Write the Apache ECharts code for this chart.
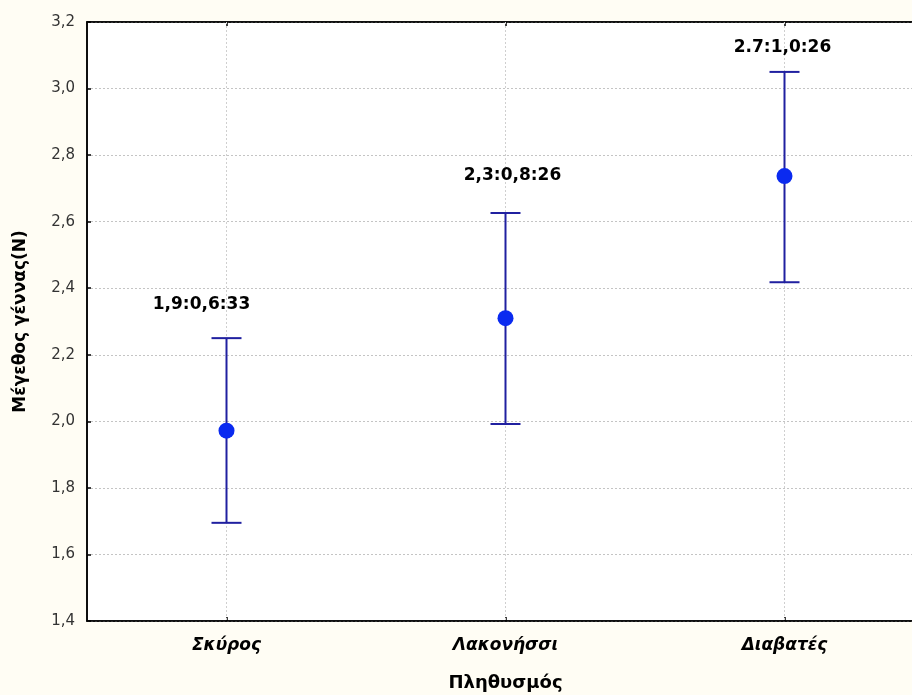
<!DOCTYPE html>
<html>
<head>
<meta charset="utf-8">
<script src="https://cdn.jsdelivr.net/npm/echarts@6/dist/echarts.min.js"></script>
<style>
html,body{margin:0;padding:0;background:#fffdf4;}
#chart{width:912px;height:695px;}
</style>
</head>
<body>
<div id="chart"></div>
<script>
const categories = ['Σκύρος', 'Λακονήσσι', 'Διαβατές'];
const means = [1.972, 2.310, 2.737];
const lower = [1.695, 1.992, 2.418];
const upper = [2.250, 2.626, 3.050];
const pointLabels = ['1,9:0,6:33', '2,3:0,8:26', '2.7:1,0:26'];
const yTicks = { min: 1.4, max: 3.2, interval: 0.2 };

// label placement styling (pixels), not data
const labelDx = [-25, 7, -2];
const labelDy = [-34, -37, -24];

const chart = echarts.init(document.getElementById('chart'));

const fmt = v => v.toFixed(1).replace('.', ',');

chart.setOption({
  backgroundColor: '#fffdf4',
  animation: false,
  grid: {
    left: 87, right: -12, top: 22, bottom: 74,
    outerBoundsMode: 'none',
    containLabel: false,
    show: true, backgroundColor: '#ffffff', borderColor: '#000', borderWidth: 1.5
  },
  xAxis: [{
    type: 'category',
    data: categories,
    boundaryGap: true,
    name: 'Πληθυσμός',
    nameLocation: 'middle',
    nameGap: 53,
    nameTextStyle: { fontFamily: 'DejaVu Sans', fontWeight: 'bold', fontSize: 18, color: '#000' },
    axisLine: { lineStyle: { color: '#000', width: 1.5 } },
    axisTick: { show: true, inside: true, alignWithLabel: true, length: 4, lineStyle: { color: '#000', width: 1.5 } },
    axisLabel: { margin: 16, fontFamily: 'DejaVu Sans', fontWeight: 'bold', fontStyle: 'italic', fontSize: 17, color: '#000' },
    splitLine: { show: false }
  }, {
    type: 'category',
    data: categories,
    position: 'top',
    boundaryGap: true,
    axisLine: { lineStyle: { color: '#000', width: 1.5 } },
    axisTick: { show: true, inside: true, alignWithLabel: true, length: 4, lineStyle: { color: '#000', width: 1.5 } },
    axisLabel: { show: false },
    splitLine: { show: false }
  }],
  yAxis: {
    type: 'value',
    min: yTicks.min, max: yTicks.max, interval: yTicks.interval,
    name: 'Μέγεθος γέννας(N)',
    nameLocation: 'middle',
    nameGap: 58,
    nameTextStyle: { fontFamily: 'DejaVu Sans', fontWeight: 'bold', fontSize: 17, color: '#000' },
    axisLine: { show: true, lineStyle: { color: '#000', width: 1.5 } },
    axisTick: { show: true, inside: true, length: 4, lineStyle: { color: '#000', width: 1.5 } },
    axisLabel: { margin: 12, fontFamily: 'DejaVu Sans', fontSize: 15, color: '#333', formatter: fmt },
    splitLine: { show: true, lineStyle: { color: '#c4c4c4', type: [2, 2], width: 1 } }
  },
  series: [{
    type: 'custom',
    xAxisIndex: 0,
    data: categories.map((c, i) => [i, means[i], lower[i], upper[i]]),
    renderItem: function (params, api) {
      const i = api.value(0);
      const pm = api.coord([i, api.value(1)]);
      const pl = api.coord([i, api.value(2)]);
      const pu = api.coord([i, api.value(3)]);
      const cs = params.coordSys;
      const cap = 15;
      const lineStyle = { stroke: '#2020a0', lineWidth: 2 };
      return {
        type: 'group',
        children: [
          { type: 'line', shape: { x1: pm[0], y1: cs.y, x2: pm[0], y2: cs.y + cs.height }, style: { stroke: '#cfcfcf', lineWidth: 1, lineDash: [2, 2] }, z2: 0 },
          { type: 'line', shape: { x1: pl[0], y1: pl[1], x2: pu[0], y2: pu[1] }, style: lineStyle, z2: 1 },
          { type: 'line', shape: { x1: pl[0] - cap, y1: pl[1], x2: pl[0] + cap, y2: pl[1] }, style: lineStyle, z2: 1 },
          { type: 'line', shape: { x1: pu[0] - cap, y1: pu[1], x2: pu[0] + cap, y2: pu[1] }, style: lineStyle, z2: 1 },
          { type: 'circle', shape: { cx: pm[0], cy: pm[1], r: 8 }, style: { fill: '#0a2af0' }, z2: 2 },
          { type: 'text', x: pu[0] + labelDx[i], y: pu[1] + labelDy[i],
            style: { text: pointLabels[i], fill: '#000', font: 'bold 17px "DejaVu Sans"', align: 'center', verticalAlign: 'middle' }, z2: 3 }
        ]
      };
    }
  }]
});
</script>
</body>
</html>
